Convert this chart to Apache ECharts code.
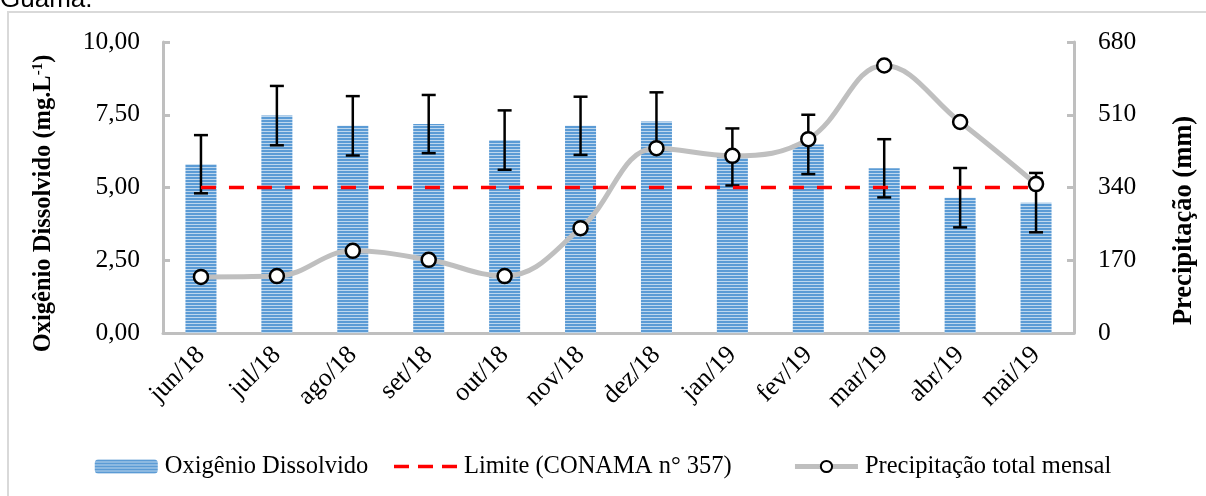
<!DOCTYPE html>
<html>
<head>
<meta charset="utf-8">
<script src="https://cdn.jsdelivr.net/npm/echarts@6/dist/echarts.min.js"></script>
<style>
html,body{margin:0;padding:0;background:#fff;}
#chart{width:1206px;height:496px;}
</style>
</head>
<body>
<div id="chart"></div>
<script>
const categories = ['jun/18','jul/18','ago/18','set/18','out/18','nov/18','dez/18','jan/19','fev/19','mar/19','abr/19','mai/19'];
const oxygen = [5.80, 7.47, 7.12, 7.18, 6.63, 7.12, 7.27, 6.05, 6.48, 5.66, 4.65, 4.48];
const oxygenError = [1.00, 1.02, 1.02, 1.00, 1.02, 1.00, 1.00, 0.98, 1.02, 1.00, 1.02, 1.02];
const limit = [5, 5, 5, 5, 5, 5, 5, 5, 5, 5, 5, 5];
const precipitation = [131, 133, 192, 171, 133, 245, 432, 414, 453, 625, 493, 348];
const leftTicks = [0, 2.5, 5, 7.5, 10];
const rightTicks = [0, 170, 340, 510, 680];

const serif = '"Liberation Serif", "Times New Roman", serif';
const limitName = 'Limite (CONAMA n° 357)';

// striped pattern for bars
const pc = document.createElement('canvas');
pc.width = 4; pc.height = 3;
const pctx = pc.getContext('2d');
pctx.fillStyle = '#5B9BD5'; pctx.fillRect(0, 0, 4, 2);
pctx.fillStyle = '#BDD7EE'; pctx.fillRect(0, 2, 4, 1);

const chart = echarts.init(document.getElementById('chart'));
const axisLineStyle = { color: '#BFBFBF', width: 3 };

const option = {
  animation: false,
  backgroundColor: '#fff',
  graphic: [
    { type: 'rect', shape: { x: 8, y: 12, width: 1210, height: 500 }, style: { fill: 'none', stroke: '#D9D9D9', lineWidth: 2 }, z: -1 },
    { type: 'text', x: 0, y: 13, style: { text: 'Guamá.', font: '26px "Liberation Sans", Arial, sans-serif', fill: '#000', verticalAlign: 'bottom' } }
  ],
  grid: { left: 163, right: 123, top: 42, bottom: 163, containLabel: false },
  legend: {
    top: 449,
    left: 'center',
    itemWidth: 63,
    itemHeight: 14,
    itemGap: 24,
    textStyle: { fontFamily: serif, fontSize: 24.5, color: '#000', padding: [0, 0, 0, 2] },
    formatter: name => (name === limitName ? name + '\u00a0\u00a0\u00a0\u00a0\u00a0\u00a0' : name),
    data: [
      { name: 'Oxigênio Dissolvido' },
      { name: limitName, itemStyle: { color: 'rgba(0,0,0,0)', borderWidth: 0 }, lineStyle: { color: '#FF0000', width: 3.5, type: [15, 9] } },
      { name: 'Precipitação total mensal', lineStyle: { color: '#BFBFBF', width: 5 } }
    ]
  },
  xAxis: {
    type: 'category',
    data: categories,
    boundaryGap: true,
    axisLine: { lineStyle: axisLineStyle },
    axisTick: { show: false },
    axisLabel: { rotate: 45, fontFamily: serif, fontSize: 26, color: '#000', margin: 18, interval: 0 },
    splitLine: { show: false }
  },
  yAxis: [
    {
      type: 'value', position: 'left', min: leftTicks[0], max: leftTicks[leftTicks.length - 1], interval: leftTicks[1] - leftTicks[0],
      name: 'Oxigênio Dissolvido (mg.L{sup|-1})',
      nameLocation: 'middle', nameRotate: 90, nameGap: 106,
      nameTextStyle: { fontFamily: serif, fontSize: 24.5, fontWeight: 'bold', color: '#000', padding: [0, 32, 0, 0],
        rich: { sup: { fontFamily: serif, fontSize: 15, fontWeight: 'bold', color: '#000', verticalAlign: 'top', padding: [0, 0, 11, 0] } } },
      axisLine: { show: true, lineStyle: axisLineStyle },
      axisTick: { show: true, inside: true, length: 7, lineStyle: axisLineStyle },
      axisLabel: { fontFamily: serif, fontSize: 25.5, color: '#000', margin: 23, formatter: v => v.toFixed(2).replace('.', ',') },
      splitLine: { show: false }
    },
    {
      type: 'value', position: 'right', min: rightTicks[0], max: rightTicks[rightTicks.length - 1], interval: rightTicks[1] - rightTicks[0],
      name: 'Precipitação (mm)',
      nameLocation: 'middle', nameRotate: 90, nameGap: 97,
      nameTextStyle: { fontFamily: serif, fontSize: 26.5, fontWeight: 'bold', color: '#000', padding: [0, 66, 0, 0] },
      axisLine: { show: true, lineStyle: axisLineStyle },
      axisTick: { show: true, inside: true, length: 7, lineStyle: axisLineStyle },
      axisLabel: { fontFamily: serif, fontSize: 25.5, color: '#000', margin: 24 },
      splitLine: { show: false }
    }
  ],
  series: [
    {
      name: 'Oxigênio Dissolvido',
      type: 'bar',
      yAxisIndex: 0,
      data: oxygen,
      barWidth: 31,
      itemStyle: { color: { image: pc, repeat: 'repeat' } },
      z: 2
    },
    {
      name: 'erro',
      type: 'custom',
      yAxisIndex: 0,
      data: oxygen.map((v, i) => [i, v, oxygenError[i]]),
      encode: { x: 0, y: 1 },
      renderItem: function (params, api) {
        const i = api.value(0), v = api.value(1), e = api.value(2);
        const top = api.coord([i, v + e]);
        const bot = api.coord([i, v - e]);
        const hw = 7;
        const st = { stroke: '#000', lineWidth: 2.5 };
        return {
          type: 'group',
          children: [
            { type: 'line', shape: { x1: top[0], y1: top[1], x2: bot[0], y2: bot[1] }, style: st },
            { type: 'line', shape: { x1: top[0] - hw, y1: top[1], x2: top[0] + hw, y2: top[1] }, style: st },
            { type: 'line', shape: { x1: bot[0] - hw, y1: bot[1], x2: bot[0] + hw, y2: bot[1] }, style: st }
          ]
        };
      },
      z: 3
    },
    {
      name: limitName,
      type: 'line',
      yAxisIndex: 0,
      data: limit,
      symbol: 'none',
      lineStyle: { color: '#FF0000', width: 3.5, type: [15, 13] },
      itemStyle: { color: '#FF0000' },
      z: 4
    },
    {
      name: 'Precipitação total mensal',
      type: 'line',
      yAxisIndex: 1,
      data: precipitation,
      smooth: 0.4,
      symbol: 'circle',
      symbolSize: 14,
      showAllSymbol: true,
      lineStyle: { color: '#BFBFBF', width: 5 },
      itemStyle: { color: '#FFFFFF', borderColor: '#000', borderWidth: 2.5 },
      z: 5
    }
  ]
};
chart.setOption(option);
</script>
</body>
</html>
